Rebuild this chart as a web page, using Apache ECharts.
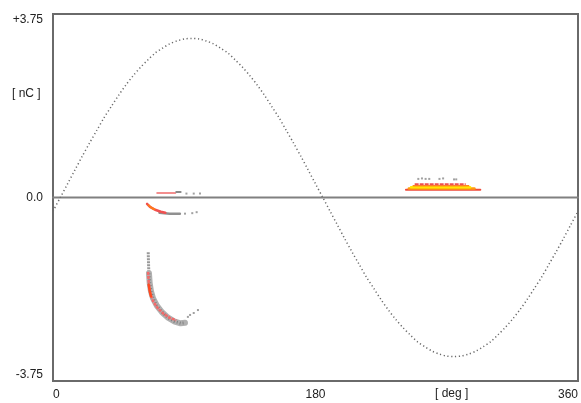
<!DOCTYPE html>
<html>
<head>
<meta charset="utf-8">
<script src="https://cdn.jsdelivr.net/npm/echarts@6/dist/echarts.min.js"></script>
<style>
  html, body { margin: 0; padding: 0; background: #fff; }
  #chart { width: 581px; height: 403px; }
</style>
</head>
<body>
<div id="chart"></div>
<script>
// reference sine (phase in deg, charge in nC), read every 5 deg
var sineDeg = [0,5,10,15,20,25,30,35,40,45,50,55,60,65,70,75,80,85,90,95,100,105,110,115,120,125,130,135,140,145,150,155,160,165,170,175,180,
               185,190,195,200,205,210,215,220,225,230,235,240,245,250,255,260,265,270,275,280,285,290,295,300,305,310,315,320,325,330,335,340,345,350,355,360];
var sineVal = [-0.28,0,0.28,0.56,0.84,1.11,1.37,1.63,1.86,2.09,2.30,2.49,2.66,2.81,2.95,3.05,3.14,3.20,3.24,3.25,3.24,3.20,3.14,3.05,2.95,2.81,2.66,2.49,2.30,2.09,1.86,1.63,1.37,1.11,0.84,0.56,0.28,
               0,-0.28,-0.56,-0.84,-1.11,-1.37,-1.63,-1.86,-2.09,-2.30,-2.49,-2.66,-2.81,-2.95,-3.05,-3.14,-3.20,-3.24,-3.25,-3.24,-3.20,-3.14,-3.05,-2.95,-2.81,-2.66,-2.49,-2.30,-2.09,-1.86,-1.63,-1.37,-1.11,-0.84,-0.56,-0.28];

var xTicks = {min: 0, max: 360, step: 180};
var yTicks = {min: -3.75, max: 3.75, step: 3.75};

// discharge clusters [deg, nC]
var c1Red   = [[71.3,0.09],[78,0.09],[84,0.09]];
var c1Gray  = [[84.5,0.11],[87.5,0.11]];
var c1Dots  = [[91.5,0.08],[96.5,0.08],[100.8,0.08]];

var c2Red    = [[64.5,-0.13],[66.5,-0.19],[70,-0.25],[74,-0.29],[77,-0.31]];
var c2Orange = [[65.5,-0.16],[67.5,-0.21],[69.5,-0.24]];
var c2Gray   = [[73,-0.31],[80,-0.33],[87,-0.33]];
var c2Dots   = [[90.5,-0.33],[95.5,-0.32],[98.5,-0.30]];

var c3Top  = [[65.3,-1.12],[65.5,-1.35],[65.8,-1.58]];
var c3Gray = [[65.8,-1.55],[66.3,-1.75],[67.2,-1.92],[68.6,-2.06],[71.2,-2.21],
              [74.6,-2.34],[78.6,-2.45],[83,-2.53],[87.5,-2.57],[90.5,-2.56]];
var c3Red  = [[65.2,-1.52],[65.7,-1.75],[66.8,-1.97],[68.8,-2.13],[72,-2.27],[76,-2.38],[80,-2.46],[84.5,-2.51]];
var c3Hot  = [[65.6,-1.78],[66.4,-1.92],[67.2,-2.02]];
var c3Dots = [[92.5,-2.44],[94,-2.4],[96.5,-2.36],[99.4,-2.3]];

var c4Bottom = [[242,0.16],[293,0.16]];
var c4Yellow = [[245.5,0.21],[286,0.21]];
var c4Orange = [[244,0.185],[289,0.185]];
var c4Top    = [[248,0.27],[283,0.27]];
var c4Mid    = [[247,0.24],[285,0.24]];
var c4Dots   = [[250.5,0.38],[253,0.39],[255.5,0.38],[258,0.38],[265,0.38],[267.5,0.39],[275,0.37],[276.5,0.37]];

function band(data, color, width, z, dash) {
  return { type: 'line', data: data, symbol: 'none', silent: true, z: z || 3,
           lineStyle: { color: color, width: width, cap: dash ? 'butt' : 'round', type: dash || 'solid' } };
}
function dots(data, color) {
  return { type: 'scatter', data: data, symbol: 'rect', symbolSize: 2, silent: true, z: 4,
           itemStyle: { color: color } };
}

var chart = echarts.init(document.getElementById('chart'));
chart.setOption({
  backgroundColor: '#ffffff',
  animation: false,
  grid: { left: 53, right: 3, top: 14, bottom: 22, show: true,
          borderColor: '#6a6a6a', borderWidth: 2, backgroundColor: 'transparent' },
  xAxis: {
    type: 'value', min: xTicks.min, max: xTicks.max, interval: xTicks.step,
    axisLine: { show: false }, axisTick: { show: false }, splitLine: { show: false },
    axisLabel: { color: '#222', fontFamily: 'Liberation Sans, Arial', fontSize: 12, margin: 8,
                 alignMinLabel: 'left', alignMaxLabel: 'right' }
  },
  yAxis: {
    type: 'value', min: yTicks.min, max: yTicks.max, interval: yTicks.step,
    axisLine: { show: false }, axisTick: { show: false }, splitLine: { show: false },
    axisLabel: { color: '#222', fontFamily: 'Liberation Sans, Arial', fontSize: 12, margin: 10,
                 verticalAlignMaxLabel: 'top', verticalAlignMinLabel: 'bottom',
                 formatter: function (v) { return v > 0 ? '+' + v : (v === 0 ? '0.0' : String(v)); } }
  },
  graphic: [
    { type: 'text', left: 12, top: 88, style: { text: '[ nC ]', fill: '#222', font: '12px Liberation Sans, Arial' } },
    { type: 'text', left: 435, top: 388, style: { text: '[ deg ]', fill: '#222', font: '12px Liberation Sans, Arial' } }
  ],
  series: [
    band([[0,0],[360,0]], '#808080', 2, 2),
    { type: 'line', data: sineDeg.map(function (d, i) { return [d, sineVal[i]]; }),
      smooth: 0.3, symbol: 'none', silent: true, z: 2,
      lineStyle: { color: '#6a6a6a', width: 1.5, type: [1.2, 2.6] } },

    band(c1Red, '#f06a6a', 1.5), band(c1Gray, '#8a8a8a', 2), dots(c1Dots, '#8a8a8a'),

    band(c2Gray, '#909090', 2.5), band(c2Red, '#f05050', 2.5), band(c2Orange, '#ff7a1a', 2), dots(c2Dots, '#8a8a8a'),

    band(c3Top, '#999999', 3, 3, [2, 1]),
    band(c3Gray, '#b0b0b0', 6, 3), band(c3Gray, '#808080', 3, 3, [1, 2]),
    band(c3Red, '#f46a6a', 2.5, 3, [3, 1]), band(c3Hot, '#ff4a20', 2.5), dots(c3Dots, '#8a8a8a'),

    band(c4Bottom, '#f04a3a', 2), band(c4Orange, '#ff9a10', 2.5), band(c4Yellow, '#ffe600', 2.5),
    band(c4Mid, '#ff8c1a', 1.5), band(c4Top, '#f05050', 2, 3, [4, 1]), dots(c4Dots, '#8a8a8a')
  ]
});
</script>
</body>
</html>
